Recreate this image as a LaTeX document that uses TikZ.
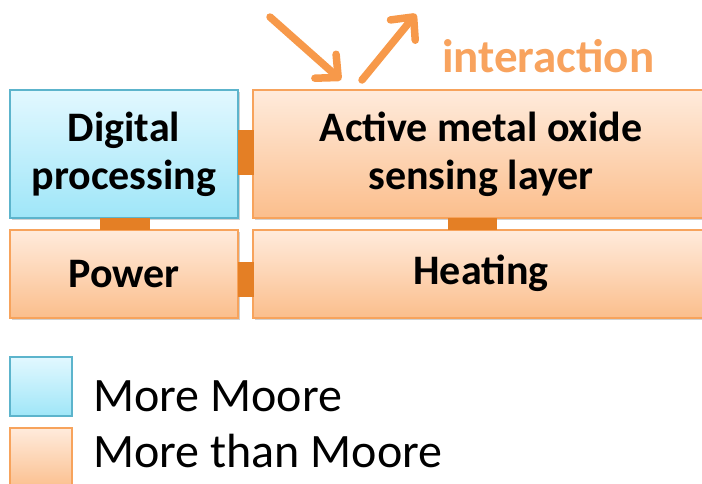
\documentclass[tikz,border=0pt]{standalone}
\usepackage{fontspec}
\setmainfont{Carlito}
\usetikzlibrary{arrows.meta,shadows}
\definecolor{blueTop}{HTML}{E2F8FF}
\definecolor{blueBot}{HTML}{9FE6F8}
\definecolor{blueLine}{HTML}{5CB4CC}
\definecolor{orTop}{HTML}{FFEBDC}
\definecolor{orBot}{HTML}{FBBE8C}
\definecolor{orLine}{HTML}{F7A35C}
\definecolor{linkCol}{HTML}{E47F25}
\definecolor{arrowCol}{HTML}{F7994A}
\definecolor{labelCol}{HTML}{F8A35E}
\tikzset{
  blockfont/.style={font=\bfseries\fontsize{42}{48}\selectfont},
  block/.style={draw, line width=1.4pt, inner sep=0pt, align=center, blockfont,
    drop shadow={shadow xshift=1.5pt, shadow yshift=-2pt, fill=black!40, opacity=0.45}},
  mm/.style={block, top color=blueTop, bottom color=blueBot, draw=blueLine},
  mtm/.style={block, top color=orTop, bottom color=orBot, draw=orLine},
  swatch/.style={draw, line width=1.4pt, inner sep=0pt, minimum width=62pt, minimum height=59pt},
  legendtext/.style={anchor=base west, inner sep=0pt, font=\fontsize{48}{50}\selectfont},
  link/.style={draw=linkCol, line cap=butt},
  flow/.style={draw=arrowCol, line width=7.5pt, line cap=round,
    -{Straight Barb[length=17pt, width=32pt, line width=7.5pt, round]}}
}
\begin{document}
\begin{tikzpicture}[x=1pt, y=-1pt]
\path[use as bounding box, clip] (0,0) rectangle (702,483);

% blocks (the right-hand blocks run on past the right margin)
\node[mm,  minimum width=228pt, minimum height=128pt] (dig) at (124,154) {Digital\\processing};
\node[mtm, minimum width=470pt, minimum height=128pt] (act) at (488,154) {};
\node[mtm, minimum width=228pt, minimum height=88pt]  (pow) at (124,274) {Power};
\node[mtm, minimum width=470pt, minimum height=88pt]  (heat) at (488,274) {};
\node[blockfont, align=center] (acttext) at (481,154) {Active metal oxide\\sensing layer};
\node[blockfont] (heattext) at (481,273) {Heating};

% connector tabs between neighbouring blocks
\coordinate (l1a) at (238,152.5); \coordinate (l1b) at (254,152.5);
\coordinate (l2a) at (125,218);   \coordinate (l2b) at (125,230);
\coordinate (l3a) at (472.5,218); \coordinate (l3b) at (472.5,230);
\coordinate (l4a) at (238,279.5); \coordinate (l4b) at (254,279.5);
\draw[link, line width=45pt] (l1a) -- (l1b);
\draw[link, line width=50pt] (l2a) -- (l2b);
\draw[link, line width=49pt] (l3a) -- (l3b);
\draw[link, line width=35pt] (l4a) -- (l4b);

% interaction arrows
\coordinate (inStart) at (270,17);
\coordinate (inTip) at (341,80);
\coordinate (outStart) at (362,80);
\coordinate (outTip) at (416,14);
\draw[flow] (inStart) -- (inTip);
\draw[flow] (outStart) -- (outTip);
\node[anchor=base west, inner sep=0pt, text=labelCol,
  font=\bfseries\fontsize{47}{48}\selectfont] (inter) at (442,72) {interaction};

% legend
\node[swatch, top color=blueTop, bottom color=blueBot, draw=blueLine] (sw1) at (41,386.5) {};
\node[swatch, top color=orTop, bottom color=orBot, draw=orLine, minimum height=62pt] (sw2) at (41,459) {};
\node[legendtext] (lg1) at (93,411) {More Moore};
\node[legendtext] (lg2) at (93,467) {More than Moore};
\end{tikzpicture}
\end{document}
